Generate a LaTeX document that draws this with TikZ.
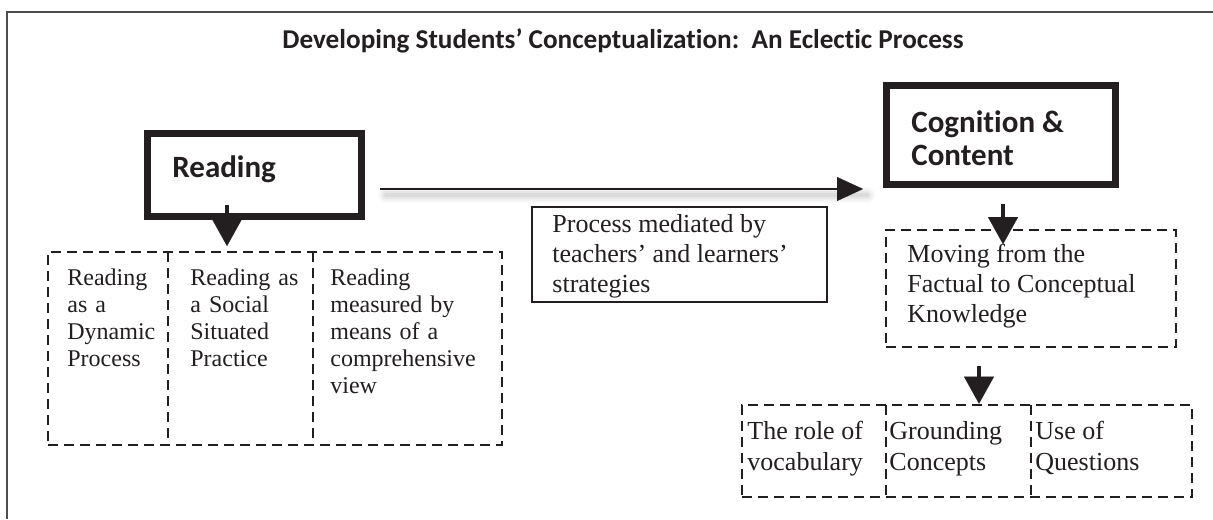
\documentclass[tikz,border=0pt]{standalone}
\usepackage{fontspec}
\setmainfont{Liberation Serif}
\newfontfamily\calib[Ligatures=NoCommon]{Carlito}
\usetikzlibrary{arrows.meta}
\definecolor{ink}{HTML}{231F20}
\tikzset{
  thickbox/.style={draw=ink, line width=3.5pt, inner sep=0pt},
  dashbox/.style={draw=ink, line width=1.35pt, dash pattern=on 5pt off 3pt, inner sep=0pt},
  thinbox/.style={draw=ink, line width=0.9pt, inner sep=0pt},
  cellA/.style={anchor=north west, inner sep=0pt, text width=60pt, align=left, font=\fontsize{12}{13.5}\selectfont, text=ink},
  cellB/.style={anchor=north west, inner sep=0pt, align=left, font=\fontsize{13}{15}\selectfont, text=ink},
  boldtxt/.style={inner sep=0pt, font=\calib\bfseries\fontsize{15.5}{16}\selectfont, text=ink, align=left},
  bigarrow/.style={draw=ink, line width=2.3pt, -{Triangle[width=15pt,length=13.5pt,line width=0.01pt]}},
  longarrow/.style={draw=ink, line width=1pt, -{Triangle[width=12pt,length=13pt,line width=0.01pt]}},
  divider/.style={draw=ink, line width=1.35pt, dash pattern=on 5pt off 3pt}
}
\begin{document}
\begin{tikzpicture}[x=0.5pt,y=-0.5pt]
\useasboundingbox[fill=white] (0,0) rectangle (1213,519);
% outer frame
\draw[line width=1pt, ink!80] (7,519) -- (7,12) -- (1213,12);
% title
\node[anchor=base, inner sep=0pt, font=\calib\bfseries\fontsize{13.6}{15}\selectfont, text=ink] (title) at (623,49)
  {Developing Students’ Conceptualization:\ \ An Eclectic Process};

% main boxes
\node[thickbox, minimum width=107pt, minimum height=41.5pt] (reading) at (254.5,175) {};
\node[boldtxt, anchor=base west] (readingtxt) at (172,177) {Reading};
\node[thickbox, minimum width=114.5pt, minimum height=49.5pt] (cog) at (1001,135) {};
\node[boldtxt, anchor=base west] (cogtxt) at (911,133) {Cognition \&};
\node[boldtxt, anchor=base west] (cogtxt2) at (911,165) {Content};

% reading row
\node[dashbox, minimum width=227pt, minimum height=96.5pt] (row1) at (275,348.5) {};
\draw[divider] (168,252) -- (168,445);
\draw[divider] (313,252) -- (313,445);
\node[cellA] (c1) at (67,266) {\strut Reading\\as a\\Dynamic\\Process};
\node[cellA] (c2) at (190,266) {\strut Reading as\\a Social\\Situated\\Practice};
\node[cellA, text width=80pt] (c3) at (330,266) {\strut Reading\\measured by\\means of a\\comprehensive\\view};

% process box
\node[thinbox, minimum width=147.5pt, minimum height=47.5pt] (proc) at (679.5,254.5) {};
\node[cellB] (proctxt) at (552,211) {\strut Process mediated by\\teachers’ and learners’\\strategies};

% moving box
\node[dashbox, minimum width=145pt, minimum height=58.5pt] (moving) at (1031,288.5) {};
\node[cellB] (movtxt) at (907,241) {\strut Moving from the\\Factual to Conceptual\\Knowledge};

% bottom row
\node[dashbox, minimum width=225pt, minimum height=46pt] (row2) at (967,451) {};
\draw[divider] (886,405) -- (886,497);
\draw[divider] (1031,405) -- (1031,497);
\node[cellB, font=\fontsize{13}{15.5}\selectfont] (d1) at (747,417) {\strut The role of\\vocabulary};
\node[cellB, font=\fontsize{13}{15.5}\selectfont] (d2) at (889,417) {\strut Grounding\\Concepts};
\node[cellB, font=\fontsize{13}{15.5}\selectfont] (d3) at (1035,417) {\strut Use of\\Questions};

% arrows
\coordinate (a1) at ([xshift=-13.75pt,yshift=7.5pt]reading.south);
\draw[bigarrow] (a1) -- ([yshift=2.3pt]a1 |- row1.north);
\coordinate (a2) at ([xshift=1pt,yshift=-8pt]cog.south);
\draw[bigarrow] (a2) -- ([yshift=-7.75pt]a2 |- moving.north);
\coordinate (a3) at ([xshift=-26pt,yshift=-8.75pt]moving.south);
\draw[bigarrow] (a3) -- (a3 |- row2.north);

% long arrow with soft shadow
\coordinate (la) at ([xshift=7.5pt,yshift=-7pt]reading.east);
\foreach \w/\o in {8pt/0.025,6pt/0.03,4pt/0.04,2pt/0.05}{
  \draw[line width=\w, black, opacity=\o, line cap=round] ([xshift=3pt,yshift=-3pt]la) -- ([xshift=-8pt,yshift=-3pt]cog.west |- la);
}
\draw[longarrow] (la) -- ([xshift=-10pt]cog.west |- la);
\end{tikzpicture}
\end{document}
